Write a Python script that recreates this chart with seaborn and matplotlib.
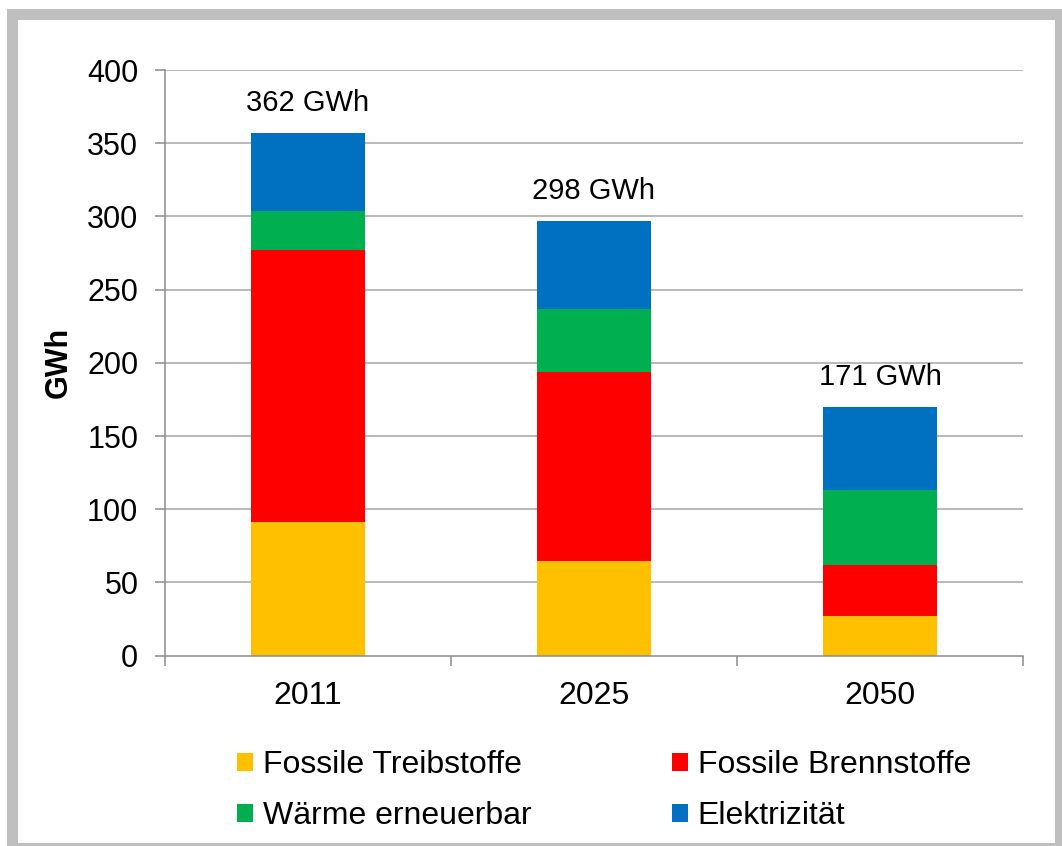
import matplotlib
matplotlib.use("Agg")
import matplotlib.pyplot as plt
from matplotlib.patches import Patch, Rectangle
import numpy as np
import pandas as pd
import seaborn as sns

years = ["2011", "2025", "2050"]
fossile_treibstoffe = [91, 65, 27]
fossile_brennstoffe = [186, 129, 35]
waerme_erneuerbar = [27, 43, 51]
elektrizitaet = [53, 60, 57]
totals_label = [362, 298, 171]

series_names = ["Fossile Treibstoffe", "Fossile Brennstoffe", "Wärme erneuerbar", "Elektrizität"]
series_values = [fossile_treibstoffe, fossile_brennstoffe, waerme_erneuerbar, elektrizitaet]
colors = ["#FFC000", "#FF0000", "#00B050", "#0070C0"]

sns.set_theme(style="white")
plt.rcParams["font.family"] = ["Liberation Sans", "DejaVu Sans"]
plt.rcParams["text.color"] = "black"
plt.rcParams["axes.labelcolor"] = "black"
plt.rcParams["xtick.labelcolor"] = "black"
plt.rcParams["ytick.labelcolor"] = "black"

W, H = 1062, 846
fig = plt.figure(figsize=(W / 100, H / 100), dpi=100)
ax = fig.add_axes([165 / W, 1 - 655.7 / H, (1023 - 165) / W, (655.7 - 70) / H])

# cumulative stacks
cum = np.cumsum(np.array(series_values), axis=0)
df = pd.DataFrame({"year": years})
for i, name in enumerate(series_names):
    df[name] = cum[i]

grid_color = "#A6A6A6"
for v in range(50, 401, 50):
    ax.axhline(v, color=grid_color, lw=1.1, zorder=0)

for i in reversed(range(len(series_names))):
    sns.barplot(data=df, x="year", y=series_names[i], color=colors[i], saturation=1,
                width=0.40, ax=ax, zorder=2, linewidth=0, order=years)

for xi, (top, lab) in enumerate(zip(cum[-1], totals_label)):
    ax.annotate(f"{lab} GWh", xy=(xi, top), xytext=(0, 16), textcoords="offset points",
                ha="center", va="baseline", fontsize=21, color="black")

ax.set_xlim(-0.5, 2.5)
ax.set_ylim(0, 400)
ax.set_yticks(range(0, 401, 50))
ax.set_xticks(range(len(years)))
ax.set_xticklabels(years)
ax.set_xticks([-0.5, 0.5, 1.5, 2.5], minor=True)
ax.set_xlabel("")
ax.set_ylabel("GWh", fontsize=22, fontweight="bold", color="black")
ax.yaxis.set_label_coords((74 - 165) / 858, 0.5)

for s in ["top", "right"]:
    ax.spines[s].set_visible(False)
for s in ["left", "bottom"]:
    ax.spines[s].set_color("#8C8C8C")
    ax.spines[s].set_linewidth(1.1)
ax.tick_params(axis="y", which="major", direction="out", length=7.2, width=1.1,
               color="#8C8C8C", labelsize=22, pad=12, left=True, labelcolor="black")
ax.tick_params(axis="x", which="major", length=0, labelsize=23, pad=18.5, labelcolor="black")
ax.tick_params(axis="x", which="minor", direction="out", length=7.2, width=1.1,
               color="#8C8C8C", bottom=True)

handles = [Patch(facecolor=c, edgecolor="none") for c in colors]
order = [0, 2, 1, 3]
leg = fig.legend([handles[i] for i in order], [series_names[i] for i in order],
                 loc="center", bbox_to_anchor=(604 / W, 1 - 790.5 / H), ncol=2, frameon=False,
                 fontsize=23, handlelength=0.5, handleheight=0.5, handletextpad=0.31,
                 columnspacing=4.4, labelspacing=0.66, borderpad=0)
for t in leg.get_texts():
    t.set_color("black")

# outer gray frame
frame_c = "#BFBFBF"
def frect(x0, y0, x1, y1):
    fig.patches.append(Rectangle((x0 / W, 1 - y1 / H), (x1 - x0) / W, (y1 - y0) / H,
                                 transform=fig.transFigure, facecolor=frame_c,
                                 edgecolor="none", zorder=10))
frect(7, 9, W, 20)
frect(7, 9, 18, H)
frect(1054.7, 9, W, H)
frect(7, 843.3, W, H)

fig.savefig("out.png", dpi=100)
